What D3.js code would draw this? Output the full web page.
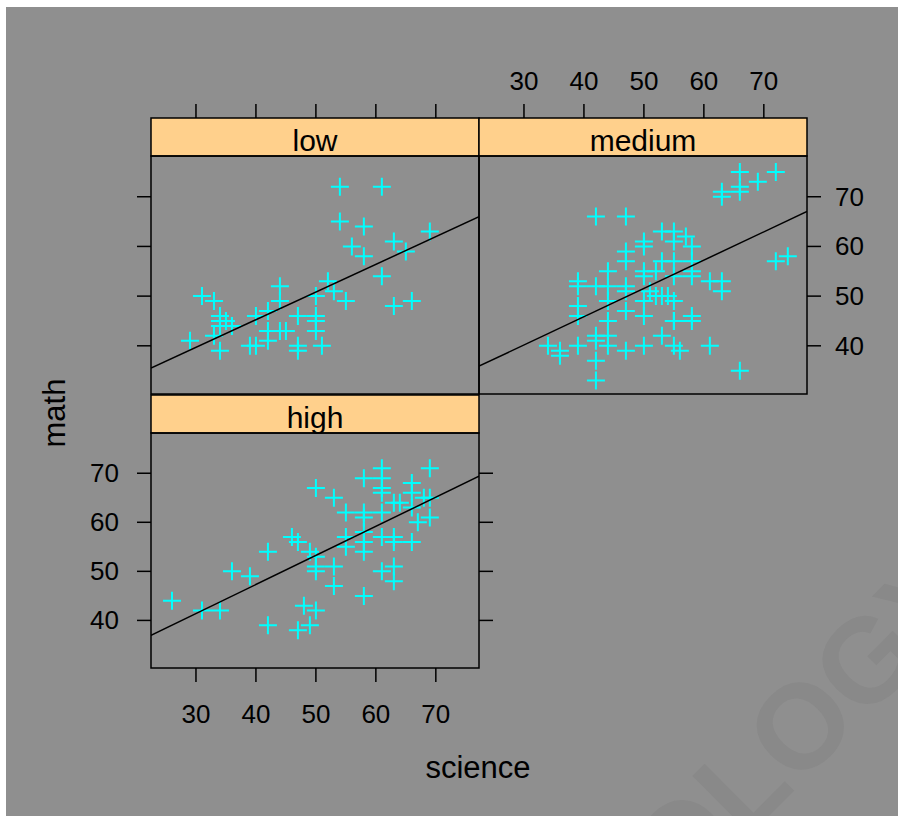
<!DOCTYPE html>
<meta charset="utf-8">
<body style="margin:0;background:#fff">
<style>
text { font-family: "Liberation Sans", Arial, sans-serif; fill: #000; }
.tick { font-size: 26px; }
.strip { font-size: 30px; }
.title { font-size: 31px; }
</style>
<script src="https://d3js.org/d3.v7.min.js"></script>
<script>

// ses groups, science on x and math on y
var groups = ["low", "medium", "high"];

var lowSci  = [54,61,54,58,69,63,56,65,58,61,52,53,55,50,63,66,44,44,31,33,40,42,47,50,50,50,47,47,51,42,44,45,42,39,40,34,35,36,34,33,29,34,34];
var lowMath = [72,72,65,64,63,61,60,59,58,54,53,51,49,50,48,49,52,49,50,49,46,47,46,46,45,43,40,39,40,43,43,43,41,40,40,45,45,44,44,42,41,39,46];

var medSci  = [66,72,69,66,66,63,63,42,47,72,74,66,61,42,42,56,55,53,50,47,44,44,42,42,39,36,36,34,58,58,55,50,47,44,39,39,39,39,42,44,44,44,47,47,47,47,50,50,53,55,55,57,58,53,55,58,58,58,50,52,50,55,51,53,54,55,52,50,61,63,63,55];
var medMath = [75,75,73,72,71,71,70,66,66,57,58,35,40,37,33,39,40,42,40,39,40,42,42,41,40,39,38,40,46,45,45,46,47,45,46,48,52,53,52,55,52,49,51,52,59,57,61,60,63,63,61,62,60,57,57,57,55,54,55,55,54,54,51,50,50,49,50,49,53,53,51,45];

var highSci  = [26,31,34,36,39,42,42,46,47,50,53,49,50,50,50,53,53,48,50,49,47,58,55,55,55,58,58,58,58,58,58,61,61,61,61,61,61,61,63,64,63,63,63,63,66,66,66,66,67,69,69,68,69];
var highMath = [44,42,42,50,49,54,39,57,56,67,65,54,53,51,50,51,47,43,42,39,38,45,62,57,55,69,62,61,58,56,54,71,69,67,66,62,57,50,64,64,57,56,51,48,68,66,63,56,60,71,65,65,61];

// fitted lines (math = a + b * science)
var fitA = [22.97, 23.1, 23.6];
var fitB = [0.557, 0.569, 0.593];

var sciTicks = [30, 40, 50, 60, 70];
var mathTicks = [40, 50, 60, 70];

var svg = d3.select("body").append("svg")
    .attr("width", 898)
    .attr("height", 816);

svg.append("rect")
    .attr("x", 6).attr("y", 7)
    .attr("width", 892).attr("height", 809)
    .attr("fill", "#8f8f8f");

// faint watermark, bottom right
svg.append("text")
    .attr("transform", "translate(679,906) rotate(-45)")
    .style("font-size", "120px")
    .style("font-weight", "bold")
    .style("fill", "#898989")
    .text("OLOGY");

var xDomain = [22.5, 77.2], yDomain = [30.3, 78.2];

var panels = [
  {name: "low",    sci: lowSci,  math: lowMath,  x0: 151, x1: 479, top: 118, y0: 156, y1: 394},
  {name: "medium", sci: medSci,  math: medMath,  x0: 479, x1: 807, top: 118, y0: 156, y1: 394},
  {name: "high",   sci: highSci, math: highMath, x0: 151, x1: 479, top: 395, y0: 433, y1: 668}
];

panels.forEach(function(p, k) {
  var x = d3.scaleLinear().domain(xDomain).range([p.x0, p.x1]);
  var y = d3.scaleLinear().domain(yDomain).range([p.y1, p.y0]);
  var g = svg.append("g");

  var clipId = "clip" + k;
  svg.append("clipPath").attr("id", clipId).append("rect")
      .attr("x", p.x0).attr("y", p.y0).attr("width", p.x1 - p.x0).attr("height", p.y1 - p.y0);

  // strip
  g.append("rect")
      .attr("x", p.x0).attr("y", p.top)
      .attr("width", p.x1 - p.x0).attr("height", p.y0 - p.top)
      .attr("fill", "#ffd08c").attr("stroke", "#000").attr("stroke-width", 1.5);
  g.append("text").attr("class", "strip")
      .attr("x", (p.x0 + p.x1) / 2).attr("y", p.y0 - 5)
      .attr("text-anchor", "middle")
      .text(p.name);

  var pts = g.append("g").attr("clip-path", "url(#" + clipId + ")");

  var data = p.sci.map(function(s, i) { return [s, p.math[i]]; });
  pts.selectAll("path.pt")
    .data(data)
    .enter().append("path")
      .attr("class", "pt")
      .attr("d", function(d) {
        var cx = x(d[0]), cy = y(d[1]);
        return "M" + (cx - 9) + "," + cy + "H" + (cx + 9) + "M" + cx + "," + (cy - 9) + "V" + (cy + 9);
      })
      .attr("stroke", "#00ffff").attr("stroke-width", 2).attr("fill", "none");

  var a = fitA[k], b = fitB[k];
  pts.append("line")
      .attr("x1", x(xDomain[0])).attr("y1", y(a + b * xDomain[0]))
      .attr("x2", x(xDomain[1])).attr("y2", y(a + b * xDomain[1]))
      .attr("stroke", "#000").attr("stroke-width", 1.5);

  g.append("rect")
      .attr("x", p.x0).attr("y", p.y0)
      .attr("width", p.x1 - p.x0).attr("height", p.y1 - p.y0)
      .attr("fill", "none").attr("stroke", "#000").attr("stroke-width", 1.5);

  function ticksX(yy, dir, labels) {
    g.selectAll(null).data(sciTicks).enter().append("line")
        .attr("x1", function(d) { return x(d); }).attr("x2", function(d) { return x(d); })
        .attr("y1", yy).attr("y2", yy + dir * 14)
        .attr("stroke", "#000").attr("stroke-width", 1.5);
    if (labels) g.selectAll(null).data(sciTicks).enter().append("text").attr("class", "tick")
        .attr("x", function(d) { return x(d); })
        .attr("y", dir < 0 ? yy - 28 : yy + 55)
        .attr("text-anchor", "middle")
        .text(function(d) { return d; });
  }
  function ticksY(xx, dir, labels) {
    g.selectAll(null).data(mathTicks).enter().append("line")
        .attr("y1", function(d) { return y(d); }).attr("y2", function(d) { return y(d); })
        .attr("x1", xx).attr("x2", xx + dir * 14)
        .attr("stroke", "#000").attr("stroke-width", 1.5);
    if (labels) g.selectAll(null).data(mathTicks).enter().append("text").attr("class", "tick")
        .attr("x", dir < 0 ? xx - 32 : xx + 28)
        .attr("y", function(d) { return y(d) + 9; })
        .attr("text-anchor", dir < 0 ? "end" : "start")
        .text(function(d) { return d; });
  }

  if (p.name === "low") { ticksX(p.top, -1, false); ticksY(p.x0, -1, false); }
  if (p.name === "medium") { ticksX(p.top, -1, true); ticksY(p.x1, 1, true); }
  if (p.name === "high") { ticksX(p.y1, 1, true); ticksY(p.x0, -1, true); ticksY(p.x1, 1, false); }
});

svg.append("text").attr("class", "title")
    .attr("x", 478).attr("y", 778)
    .attr("text-anchor", "middle")
    .text("science");

svg.append("text").attr("class", "title")
    .attr("transform", "translate(65,413) rotate(-90)")
    .attr("text-anchor", "middle")
    .text("math");

</script>
</body>
